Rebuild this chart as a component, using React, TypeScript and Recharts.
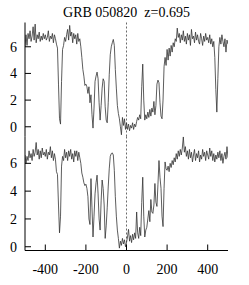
import { LineChart, Line, XAxis, YAxis, ReferenceLine } from "recharts";

// normalised flux, sampled every 5 km/s from -500 to +500
const velStart = -500;
const velStep = 5;

const topFlux = [
  6.0, 6.9, 6.1, 7.0, 6.6, 7.2, 6.4, 6.8, 7.5, 6.5,
  7.7, 6.3, 6.9, 6.6, 7.1, 6.4, 6.8, 6.5, 7.0, 6.6,
  6.9, 6.5, 6.7, 7.2, 6.4, 6.8, 6.6, 7.0, 6.3, 6.9,
  6.6, 6.2, 5.9, 3.2, 0.6, 0.2, 3.4, 5.8, 6.1, 6.7,
  6.4, 6.9, 7.3, 6.5, 7.6, 6.8, 7.1, 6.3, 7.0, 6.6,
  6.9, 6.2, 7.0, 6.4, 6.6, 6.0, 5.2, 4.3, 3.8, 3.1,
  3.2, 3.0, 2.5, 3.0, 1.8, 2.4, 0.9, -0.1, 1.4, 3.4,
  3.8, 4.1, 3.6, 1.8, 0.5, 1.6, 2.9, 3.6, 3.4, 1.5,
  0.5, 0.3, 1.8, 3.9, 5.4, 6.0, 6.3, 6.55, 6.1, 4.3,
  2.9, 1.6, 1.0, 0.6, 0.0, -0.6, 0.7, 0.1, 0.6, -0.2,
  0.3, -0.2, 0.2, -0.3, 0.1, -0.1, 0.3, -0.2, 0.2, 0.0,
  0.4, 0.7, 0.5, 0.9, 0.6, 3.0, 4.7, 2.0, 0.5, 0.9,
  0.6, 1.1, 0.7, 1.3, 0.8, 1.4, 1.1, 1.9, 0.9, 1.6,
  3.2, 3.5, 3.3, 1.8, 0.8, 0.6, 2.0, 4.5, 5.2, 4.6,
  5.8, 5.0, 5.9, 5.3, 6.1, 5.6, 6.3, 6.0, 6.6, 6.4,
  7.4, 6.7, 7.0, 6.3, 6.9, 6.5, 7.2, 6.4, 6.8, 6.2,
  7.0, 6.5, 6.9, 6.1, 7.3, 6.6, 6.8, 6.3, 7.1, 6.5,
  6.9, 6.4, 6.2, 7.0, 6.6, 6.1, 6.8, 6.4, 7.0, 6.5,
  6.7, 6.3, 6.9, 6.2, 6.6, 6.0, 6.4, 5.2, 2.8, 1.1,
  3.6, 6.0, 6.7, 6.2, 6.9, 6.4, 6.0, 6.6, 5.6, 6.5,
  6.2,
];

const bottomFlux = [
  6.6, 6.0, 6.5, 6.2, 6.9, 6.4, 6.7, 6.2, 7.0, 6.5,
  6.8, 7.5, 6.6, 7.0, 6.3, 6.9, 6.4, 7.1, 6.6, 6.8,
  6.5, 7.0, 6.3, 6.8, 6.6, 7.2, 6.4, 6.9, 6.2, 6.7,
  6.3, 5.4, 5.2, 3.0, 1.0, 2.2, 5.8, 6.5, 6.2, 7.0,
  6.4, 6.8, 6.2, 6.9, 6.5, 7.0, 6.3, 6.7, 6.1, 6.9,
  6.5, 6.9, 6.2, 6.8, 6.4, 6.0, 5.3, 5.0, 4.6, 4.4,
  4.5, 4.2, 3.6, 2.0, 1.6, 4.9, 2.8, 0.7, 2.2, 3.8,
  4.6, 5.15, 3.8, 2.0, 1.2, 3.3, 4.8, 4.2, 3.0, 0.6,
  1.5, 2.8, 4.3, 5.6, 6.5, 6.7, 6.75, 6.6, 5.5, 3.6,
  2.2, 1.2, 0.6, -0.1, 0.4, 0.1, 0.6, 0.2, 0.5, 0.0,
  0.3, 0.7, 1.25, 0.4, 0.8, 0.3, 0.9, 0.5, 1.0, 0.6,
  2.5, 1.0, 0.6, 1.4, 0.8, 3.2, 5.0, 2.2, 0.7, 1.2,
  1.4, 2.0, 2.6, 1.8, 3.4, 2.5, 2.4, 3.0, 4.55, 3.2,
  2.9, 4.5, 6.2, 5.0, 4.2, 2.2, 1.45, 4.2, 6.1, 5.6,
  5.5, 5.8, 5.4, 6.0, 5.7, 6.2, 5.9, 6.4, 6.1, 6.7,
  6.3, 6.9, 6.5, 7.0, 6.6, 7.1, 7.9, 6.8, 7.2, 6.5,
  6.9, 6.3, 7.0, 6.4, 6.8, 6.1, 6.6, 7.0, 6.2, 6.7,
  6.4, 6.9, 6.1, 6.6, 6.3, 7.0, 6.5, 6.8, 6.2, 6.9,
  6.6, 6.3, 7.1, 6.5, 6.9, 6.2, 6.7, 6.1, 6.6, 6.3,
  6.8, 6.4, 6.9, 6.2, 6.7, 6.0, 6.5, 6.8, 6.3, 7.2,
  6.4,
];

const velTicks = [-400, -200, 0, 200, 400];
const fluxTicks = [0, 2, 4, 6];
const title = "GRB 050820  z=0.695";

const topData = topFlux.map((f, i) => ({ v: velStart + i * velStep, f }));
const bottomData = bottomFlux.map((f, i) => ({ v: velStart + i * velStep, f }));

const font = "'Liberation Serif', 'Times New Roman', serif";
const tickText = { fill: "#000", fontSize: 14, fontFamily: font };
const lineColor = "#333";

function Panel({ data, yDomain, height, margin, showX }: any) {
  return (
    <LineChart width={249} height={height} data={data} margin={margin}>
      <XAxis
        xAxisId="b"
        dataKey="v"
        type="number"
        domain={[-500, 500]}
        ticks={velTicks}
        allowDataOverflow
        height={showX ? 34 : 0}
        tick={showX ? tickText : false}
        tickLine={showX ? { stroke: "#000" } : false}
        tickSize={-6}
        tickMargin={20}
        axisLine={{ stroke: "#000" }}
      />
      <XAxis
        xAxisId="t"
        orientation="top"
        type="number"
        domain={[-500, 500]}
        height={0}
        tick={false}
        tickLine={false}
        axisLine={{ stroke: "#000" }}
      />
      <YAxis
        yAxisId="l"
        type="number"
        domain={yDomain}
        ticks={fluxTicks}
        allowDataOverflow
        width={25}
        tick={tickText}
        tickSize={-6}
        tickMargin={14}
        tickLine={{ stroke: "#000" }}
        axisLine={{ stroke: "#000" }}
      />
      <YAxis
        yAxisId="r"
        orientation="right"
        type="number"
        domain={yDomain}
        ticks={fluxTicks}
        allowDataOverflow
        width={0}
        tick={false}
        tickSize={-6}
        tickLine={{ stroke: "#000" }}
        axisLine={{ stroke: "#000" }}
      />
      <ReferenceLine xAxisId="b" yAxisId="l" x={0} stroke="#444" strokeWidth={0.8} strokeDasharray="2 2" />
      <Line
        xAxisId="b"
        yAxisId="l"
        type="linear"
        dataKey="f"
        stroke={lineColor}
        strokeWidth={0.8}
        dot={false}
        isAnimationActive={false}
      />
    </LineChart>
  );
}

export default function App() {
  return (
    <div style={{ position: "absolute", left: 0, top: 0, width: 249, height: 285, background: "#fff", fontFamily: font }}>
      <div
        style={{
          position: "absolute",
          left: 25,
          top: 4,
          width: 203,
          textAlign: "center",
          fontSize: 14,
          lineHeight: "17px",
          whiteSpace: "pre",
          color: "#000",
        }}
      >
        {title}
      </div>
      <div style={{ position: "absolute", left: 0, top: 0 }}>
        <Panel data={topData} yDomain={[-0.73, 7.82]} height={137} margin={{ top: 22.5, right: 21, bottom: 0.5, left: 0 }} showX={false} />
      </div>
      <div style={{ position: "absolute", left: 0, top: 136 }}>
        <Panel data={bottomData} yDomain={[-0.27, 7.93]} height={148.5} margin={{ top: 0.5, right: 21, bottom: 0, left: 0 }} showX={true} />
      </div>
    </div>
  );
}
